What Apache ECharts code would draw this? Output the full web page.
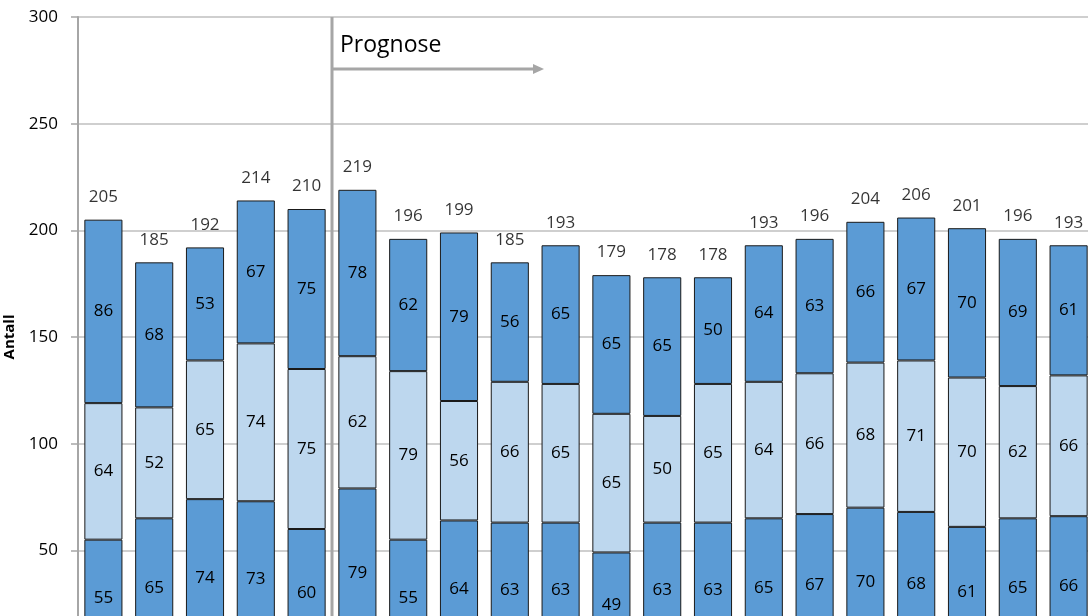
<!DOCTYPE html>
<html>
<head>
<meta charset="utf-8">
<script src="https://cdn.jsdelivr.net/npm/echarts@6/dist/echarts.min.js"></script>
<style>
  html, body { margin: 0; padding: 0; background: #fff; }
  #chart { width: 1088px; height: 616px; }
</style>
</head>
<body>
<div id="chart"></div>
<script>
// år (aksen er kuttet nederst i utsnittet)
var years = ['2008','2009','2010','2011','2012','2013','2014','2015','2016','2017',
             '2018','2019','2020','2021','2022','2023','2024','2025','2026','2027'];
var bottomVals = [55,65,74,73,60,79,55,64,63,63,49,63,63,65,67,70,68,61,65,66];
var middleVals = [64,52,65,74,75,62,79,56,66,65,65,50,65,64,66,68,71,70,62,66];
var topVals    = [86,68,53,67,75,78,62,79,56,65,65,65,50,64,63,66,67,70,69,61];
var totals     = [205,185,192,214,210,219,196,199,185,193,179,178,178,193,196,204,206,201,196,193];
var yTicks = [0, 50, 100, 150, 200, 250, 300];

var font = '"Open Sans", "Noto Sans", sans-serif';
var darkBlue = '#5b9bd5';
var lightBlue = '#bdd7ee';

function barSeries(name, data, color) {
    return {
        name: name,
        type: 'bar',
        stack: 'sum',
        data: data,
        barWidth: '75%',
        itemStyle: { color: color, borderColor: '#1a1a1a', borderWidth: 1 },
        label: {
            show: true,
            position: 'inside',
            color: '#000',
            fontFamily: font,
            fontSize: 17
        },
        emphasis: { disabled: true }
    };
}

var chart = echarts.init(document.getElementById('chart'));
chart.setOption({
    animation: false,
    backgroundColor: '#fff',
    grid: { left: 78, right: -6, top: 17, bottom: -41, containLabel: false, outerBoundsMode: 'none' },
    xAxis: {
        type: 'category',
        data: years,
        axisLine: { show: false },
        axisTick: { show: false },
        axisLabel: { show: false }
    },
    yAxis: {
        type: 'value',
        min: yTicks[0],
        max: yTicks[yTicks.length - 1],
        interval: 50,
        name: 'Antall',
        nameLocation: 'middle',
        nameGap: 61,
        nameTextStyle: { fontFamily: font, fontSize: 15, fontWeight: 'bold', color: '#000' },
        axisLine: { show: true, lineStyle: { color: '#a6a6a6', width: 2 } },
        axisTick: { show: true, length: 7, lineStyle: { color: '#a6a6a6', width: 1.5 } },
        axisLabel: { margin: 20, fontFamily: font, fontSize: 17, color: '#000' },
        splitLine: { lineStyle: { color: '#bfbfbf', width: 1.5 } }
    },
    series: [
        barSeries('Gruppe 1', bottomVals, darkBlue),
        barSeries('Gruppe 2', middleVals, lightBlue),
        barSeries('Gruppe 3', topVals, darkBlue),
        {
            name: 'Totalt',
            type: 'scatter',
            data: totals,
            symbolSize: 0,
            label: {
                show: true,
                position: 'top',
                distance: 14,
                color: '#000',
                fontFamily: font,
                fontSize: 17
            },
            emphasis: { disabled: true },
            z: 5
        }
    ]
});

// prognose-skille mellom 5. og 6. søyle
var x4 = chart.convertToPixel({ xAxisIndex: 0 }, 4);
var x5 = chart.convertToPixel({ xAxisIndex: 0 }, 5);
var divX = Math.round((x4 + x5) / 2);
var arrowY = 69;
var arrowEnd = divX + 212;
chart.setOption({
    graphic: [
        {
            type: 'line',
            shape: { x1: divX, y1: 17, x2: divX, y2: 616 },
            style: { stroke: '#a6a6a6', lineWidth: 3 },
            z: 10
        },
        {
            type: 'line',
            shape: { x1: divX, y1: arrowY, x2: arrowEnd - 8, y2: arrowY },
            style: { stroke: '#a6a6a6', lineWidth: 3 },
            z: 10
        },
        {
            type: 'polygon',
            shape: { points: [[arrowEnd - 11, arrowY - 5], [arrowEnd, arrowY], [arrowEnd - 11, arrowY + 5]] },
            style: { fill: '#a6a6a6' },
            z: 10
        },
        {
            type: 'text',
            left: divX + 8,
            top: 34,
            style: { text: 'Prognose', fontFamily: font, fontSize: 23, fill: '#000' },
            z: 10
        }
    ]
});
</script>
</body>
</html>
